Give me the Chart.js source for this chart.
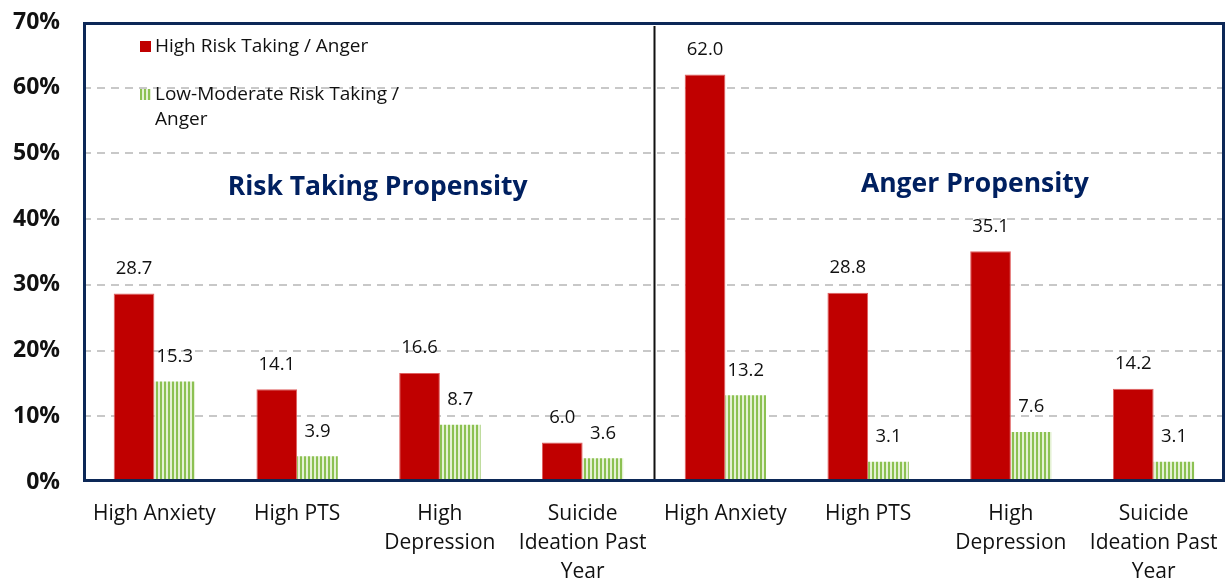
<!DOCTYPE html>
<html>
<head>
<meta charset="utf-8">
<script src="https://cdn.jsdelivr.net/npm/chart.js@4/dist/chart.umd.min.js"></script>
<style>
    html, body { margin: 0; padding: 0; background: #fff; }
    #wrap { width: 1227px; height: 580px; }
</style>
</head>
<body>
<div id="wrap"><canvas id="chart" width="1227" height="580"></canvas></div>
<script>
const categories = [
    ["High Anxiety"], ["High PTS"], ["High", "Depression"], ["Suicide", "Ideation Past", "Year"],
    ["High Anxiety"], ["High PTS"], ["High", "Depression"], ["Suicide", "Ideation Past", "Year"]
];
const highValues = [28.7, 14.1, 16.6, 6.0, 62.0, 28.8, 35.1, 14.2];
const lowValues = [15.3, 3.9, 8.7, 3.6, 13.2, 3.1, 7.6, 3.1];
const seriesNames = ["High Risk Taking / Anger", ["Low-Moderate Risk Taking /", "Anger"]];
const panelTitles = ["Risk Taking Propensity", "Anger Propensity"];

const FONT = "'Open Sans', 'Noto Sans', sans-serif";
const NAVY = "#0c2857";

function stripePattern() {
    const c = document.createElement("canvas");
    c.width = 4; c.height = 4;
    const g = c.getContext("2d");
    g.fillStyle = "#e4f1d4";
    g.fillRect(0, 0, 4, 4);
    g.fillStyle = "#8cc152";
    g.fillRect(0, 0, 2, 4);
    return g.createPattern(c, "repeat");
}
const greenFill = stripePattern();

const decorations = {
    id: "decorations",
    beforeDatasetsDraw(chart) {
        const { ctx, chartArea: a, scales: { x } } = chart;
        ctx.save();
        // divider between the two panels
        const mid = Math.round(x.getPixelForValue(3.5)) + 0.5;
        ctx.strokeStyle = "#111";
        ctx.lineWidth = 2;
        ctx.beginPath();
        ctx.moveTo(mid, a.top + 4);
        ctx.lineTo(mid, a.bottom);
        ctx.stroke();
        ctx.restore();
    },
    afterDatasetsDraw(chart) {
        const { ctx, chartArea: a } = chart;
        ctx.save();
        // frame
        ctx.strokeStyle = NAVY;
        ctx.lineWidth = 3;
        ctx.strokeRect(a.left + 1.5, a.top + 1.5, a.width - 3, a.height - 3);

        // value labels
        ctx.fillStyle = "#111";
        ctx.font = "18.5px " + FONT;
        ctx.textAlign = "center";
        ctx.textBaseline = "middle";
        chart.data.datasets.forEach((ds, i) => {
            chart.getDatasetMeta(i).data.forEach((bar, j) => {
                ctx.fillText(ds.data[j].toFixed(1), bar.x, bar.y - 25);
            });
        });

        // panel titles
        ctx.fillStyle = "#002060";
        ctx.font = "bold 26.5px " + FONT;
        ctx.fillText(panelTitles[0], a.left + a.width * 0.258, 187);
        ctx.fillText(panelTitles[1], a.left + a.width * 0.781, 184);

        // legend
        ctx.textAlign = "left";
        ctx.font = "19px " + FONT;
        ctx.fillStyle = "#c00000";
        ctx.fillRect(140, 41, 11, 11);
        ctx.fillStyle = "#111";
        ctx.fillText(seriesNames[0], 155, 47);
        ctx.fillStyle = greenFill;
        ctx.fillRect(140, 89, 11, 11);
        ctx.fillStyle = "#111";
        ctx.fillText(seriesNames[1][0], 155, 95);
        ctx.fillText(seriesNames[1][1], 155, 120);
        ctx.restore();
    }
};

function noScalePadding(s) {
    s.paddingTop = 0;
    s.paddingBottom = 0;
    s.paddingLeft = 0;
    s.paddingRight = 0;
}

new Chart(document.getElementById("chart"), {
    type: "bar",
    data: {
        labels: categories,
        datasets: [
            {
                label: "High Risk Taking / Anger",
                data: highValues,
                backgroundColor: "#c00000",
                borderColor: "#e06060",
                borderWidth: 1,
                barPercentage: 1,
                categoryPercentage: 0.57
            },
            {
                label: "Low-Moderate Risk Taking / Anger",
                data: lowValues,
                backgroundColor: greenFill,
                barPercentage: 1,
                categoryPercentage: 0.57
            }
        ]
    },
    options: {
        responsive: false,
        animation: false,
        layout: { padding: { top: 22, right: 2, left: 0, bottom: 0 } },
        plugins: {
            legend: { display: false },
            tooltip: { enabled: false }
        },
        scales: {
            x: {
                grid: { display: false, drawTicks: false },
                border: { display: false },
                ticks: {
                    color: "#111",
                    font: { family: FONT, size: 21, lineHeight: 1.38 },
                    padding: 18,
                    maxRotation: 0,
                    autoSkip: false
                },
                afterFit(s) { s.height = 98; noScalePadding(s); }
            },
            y: {
                min: 0,
                max: 70,
                grid: {
                    color: (c) => (c.tick.value === 0 || c.tick.value === 70) ? "rgba(0,0,0,0)" : "#c8c8c8",
                    lineWidth: 2,
                    drawTicks: false
                },
                border: { display: false, dash: [8, 6] },
                ticks: {
                    stepSize: 10,
                    color: "#111",
                    font: { family: FONT, size: 23, weight: "bold" },
                    padding: 23,
                    callback: (v) => v + "%"
                },
                afterFit(s) { s.width = 83; noScalePadding(s); }
            }
        }
    },
    plugins: [decorations]
});
</script>
</body>
</html>
